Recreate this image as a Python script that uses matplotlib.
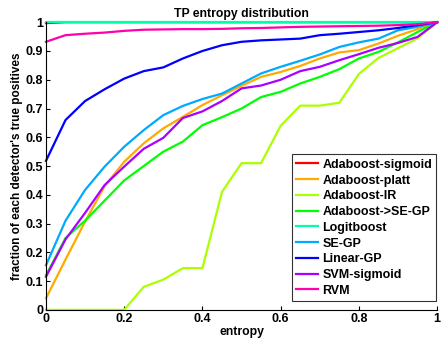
import colorsys
import numpy as np
import matplotlib
matplotlib.use('Agg')
import matplotlib.pyplot as plt

plt.rcParams['font.family'] = ['Liberation Sans', 'DejaVu Sans']
plt.rcParams['font.weight'] = 'bold'

entropy = np.linspace(0, 1, 21)

names = ['Adaboost-sigmoid', 'Adaboost-platt', 'Adaboost-IR', 'Adaboost->SE-GP',
         'Logitboost', 'SE-GP', 'Linear-GP', 'SVM-sigmoid', 'RVM']

ada_sigmoid = [0.997] + [1.0] * 20
ada_platt = [0.04, 0.175, 0.307, 0.43, 0.515, 0.579, 0.631, 0.671, 0.712, 0.746, 0.779,
             0.81, 0.827, 0.848, 0.874, 0.895, 0.903, 0.926, 0.953, 0.976, 1.0]
ada_ir = [0.0, 0.0, 0.0, 0.0, 0.0, 0.08, 0.105, 0.145, 0.145, 0.41, 0.51,
          0.51, 0.64, 0.71, 0.71, 0.72, 0.82, 0.876, 0.91, 0.944, 1.0]
ada_segp = [0.12, 0.25, 0.31, 0.38, 0.45, 0.50, 0.55, 0.585, 0.642, 0.67, 0.70,
            0.74, 0.758, 0.787, 0.81, 0.837, 0.874, 0.897, 0.93, 0.966, 1.0]
logitboost = [1.0] * 21
se_gp = [0.155, 0.31, 0.417, 0.498, 0.567, 0.625, 0.677, 0.709, 0.733, 0.752, 0.787,
         0.822, 0.845, 0.866, 0.888, 0.914, 0.93, 0.943, 0.972, 0.984, 1.0]
linear_gp = [0.518, 0.66, 0.726, 0.767, 0.804, 0.83, 0.843, 0.874, 0.90, 0.92, 0.932,
             0.937, 0.94, 0.943, 0.955, 0.96, 0.966, 0.972, 0.98, 0.99, 1.0]
svm_sigmoid = [0.115, 0.245, 0.337, 0.434, 0.498, 0.56, 0.598, 0.667, 0.69, 0.726, 0.77,
               0.78, 0.80, 0.83, 0.845, 0.868, 0.889, 0.911, 0.928, 0.949, 1.0]
rvm = [0.932, 0.955, 0.96, 0.964, 0.97, 0.974, 0.975, 0.976, 0.976, 0.977, 0.979,
       0.98, 0.982, 0.984, 0.985, 0.986, 0.987, 0.988, 0.99, 0.993, 1.0]

series = [ada_sigmoid, ada_platt, ada_ir, ada_segp, logitboost,
          se_gp, linear_gp, svm_sigmoid, rvm]

fig = plt.figure(figsize=(4.42, 3.42), dpi=100)
ax = fig.add_axes([0.104, 0.094, 0.885, 0.841])

for i, (name, vals) in enumerate(zip(names, series)):
    c = colorsys.hsv_to_rgb(i / 9.0, 1, 1)
    ax.plot(entropy, vals, color=c, lw=1.6, label=name, clip_on=False)

ax.set_xlim(0, 1)
ax.set_ylim(0, 1)
ax.set_xticks(np.arange(0, 1.01, 0.2))
ax.set_xticklabels(['0', '0.2', '0.4', '0.6', '0.8', '1'])
ax.set_yticks(np.arange(0, 1.01, 0.1))
ax.set_yticklabels(['0', '0.1', '0.2', '0.3', '0.4', '0.5', '0.6', '0.7', '0.8', '0.9', '1'])
ax.tick_params(direction='in', length=3, labelsize=9, pad=2)
ax.spines['top'].set_visible(False)
ax.spines['right'].set_visible(False)

ax.set_title('TP entropy distribution', fontsize=8.8, fontweight='bold', pad=4)
ax.set_xlabel('entropy', fontsize=8.8, fontweight='bold', labelpad=1)
ax.set_ylabel("fraction of each detector's true positives", fontsize=8.5,
              fontweight='bold', labelpad=2)

leg = ax.legend(loc='lower right', bbox_to_anchor=(0.998, 0.03), fontsize=9,
                frameon=True, fancybox=False, edgecolor='black',
                handlelength=1.8, handletextpad=0.3, labelspacing=0.3,
                borderpad=0.35, borderaxespad=0)
leg.get_frame().set_linewidth(0.8)

fig.savefig('out.png', dpi=100)
